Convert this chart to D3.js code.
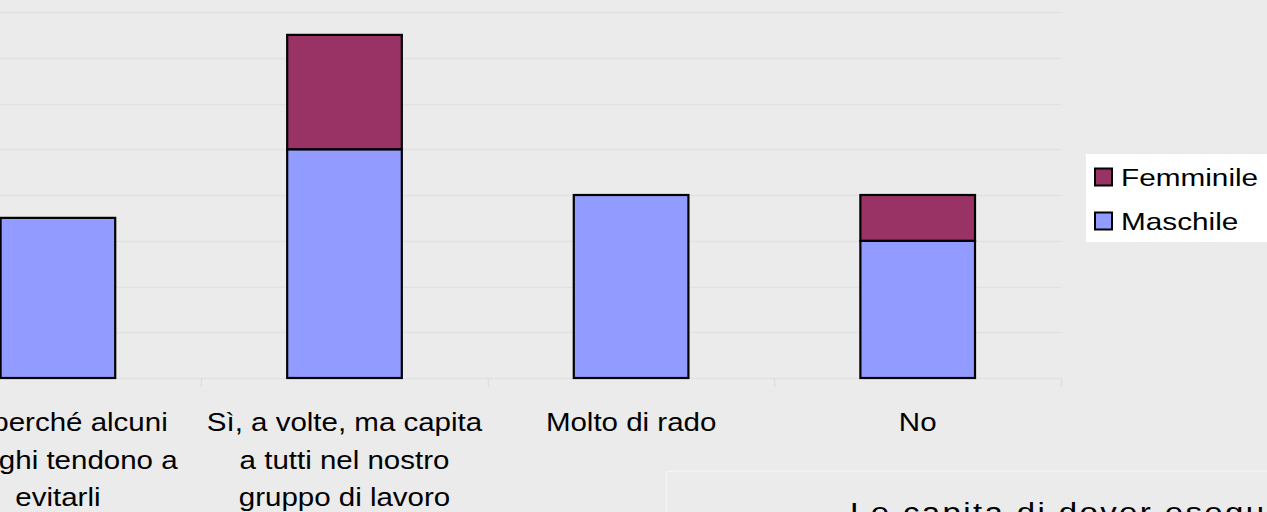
<!DOCTYPE html>
<html>
<head>
<meta charset="utf-8">
<script src="https://cdn.jsdelivr.net/npm/d3@7"></script>
<style>
  html, body { margin: 0; padding: 0; background: #ebebeb; overflow: hidden; }
  svg { display: block; }
  text { font-family: "Liberation Sans", Arial, sans-serif; fill: #000; }
</style>
</head>
<body>
<svg id="chart" width="1267" height="512"></svg>
<script>
// ---- data ----
const categories = ["Sì, perché alcuni colleghi tendono a evitarli", "Sì, a volte, ma capita a tutti nel nostro gruppo di lavoro", "Molto di rado", "No"];
const categoryLines = [
  ["Sì, perché alcuni", "colleghi tendono a", "evitarli"],
  ["Sì, a volte, ma capita", "a tutti nel nostro", "gruppo di lavoro"],
  ["Molto di rado"],
  ["No"]
];
const seriesNames = ["Maschile", "Femminile"];
const maschile = [7, 10, 8, 6];
const femminile = [0, 5, 0, 2];
const yTicks = [0, 2, 4, 6, 8, 10, 12, 14, 16];
const titleText = "Le capita di dover eseguire compiti che altri colleghi tendono a evitare?";

// ---- layout ----
const svg = d3.select("#chart");
const W = 1267, H = 512;
const plotLeft = -85.4, plotRight = 1061, plotTop = 12, plotBottom = 378;
const colors = { "Maschile": "#929bff", "Femminile": "#993366" };

const x = d3.scaleBand().domain(categories).range([plotLeft, plotRight]).paddingInner(0).paddingOuter(0);
const y = d3.scaleLinear().domain([0, 16]).range([plotBottom, plotTop]);

svg.append("rect").attr("x", 0).attr("y", 0).attr("width", W).attr("height", H).attr("fill", "#ebebeb");

// gridlines
svg.append("g")
  .selectAll("line").data(yTicks).join("line")
  .attr("x1", Math.max(0, plotLeft)).attr("x2", plotRight)
  .attr("y1", d => Math.round(y(d)) + 0.5).attr("y2", d => Math.round(y(d)) + 0.5)
  .attr("stroke", "#e1e1e1").attr("stroke-width", 1.5);

// category tick marks (band boundaries)
const boundaries = categories.map(c => x(c) + x.bandwidth());
svg.append("g")
  .selectAll("line").data(boundaries).join("line")
  .attr("x1", d => Math.round(d) + 0.5).attr("x2", d => Math.round(d) + 0.5)
  .attr("y1", plotBottom).attr("y2", plotBottom + 9)
  .attr("stroke", "#dedede").attr("stroke-width", 1.5);

// stacked bars
const table = categories.map((c, i) => ({ cat: c, Maschile: maschile[i], Femminile: femminile[i] }));
const stacked = d3.stack().keys(seriesNames)(table);
const barW = x.bandwidth() * 0.4;
const barOff = (x.bandwidth() - barW) / 2;

svg.append("g").selectAll("g").data(stacked).join("g")
  .attr("fill", d => colors[d.key])
  .selectAll("rect").data(d => d.filter(v => v[1] - v[0] > 0)).join("rect")
  .attr("x", d => x(d.data.cat) + barOff)
  .attr("width", barW)
  .attr("y", d => y(d[1]))
  .attr("height", d => y(d[0]) - y(d[1]))
  .attr("stroke", "#000").attr("stroke-width", 2.2);

// category labels
const sx = 1.18;
const labelG = svg.append("g");
categories.forEach((c, i) => {
  const cx = x(c) + x.bandwidth() / 2;
  categoryLines[i].forEach((line, j) => {
    labelG.append("text")
      .attr("transform", `translate(${cx},${431 + j * 37.5}) scale(${sx},1)`)
      .attr("text-anchor", "middle")
      .attr("font-size", 25)
      .text(line);
  });
});

// legend
const legend = svg.append("g");
legend.append("rect").attr("x", 1086).attr("y", 154).attr("width", 200).attr("height", 88).attr("fill", "#ffffff");
const legendItems = ["Femminile", "Maschile"];
legendItems.forEach((k, i) => {
  const cy = 177 + i * 44;
  legend.append("rect").attr("x", 1095).attr("y", cy - 8.5).attr("width", 17).attr("height", 17)
    .attr("fill", colors[k]).attr("stroke", "#000").attr("stroke-width", 2);
  legend.append("text")
    .attr("transform", `translate(1121,${cy + 8.5}) scale(1.24,1)`)
    .attr("font-size", 24)
    .text(k);
});

// title box (cut off)
svg.append("rect").attr("x", 666.5).attr("y", 471.5).attr("width", 700).attr("height", 100)
  .attr("fill", "#ebebeb").attr("stroke", "#f3f3f3").attr("stroke-width", 1.5);
svg.append("text")
  .attr("transform", `translate(850,522) scale(1.18,1)`)
  .attr("font-size", 28)
  .attr("letter-spacing", 2)
  .text(titleText);
</script>
</body>
</html>
